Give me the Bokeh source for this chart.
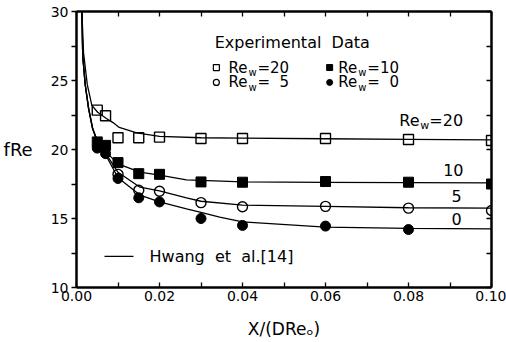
from bokeh.plotting import figure
from bokeh.models import Range1d, FixedTicker, LinearAxis, Label, CustomLabelingPolicy
from bokeh.embed import file_html
from bokeh.resources import INLINE

FONT = "DejaVu Sans"
NB = "\u00a0"

# ---------------- data ----------------
x_ticks = [0.0, 0.02, 0.04, 0.06, 0.08, 0.10]
x_minor = [0.01, 0.03, 0.05, 0.07, 0.09]
x_tick_labels = ["0.00", "0.02", "0.04", "0.06", "0.08", "0.10"]
y_ticks = [10, 15, 20, 25, 30]
y_minor = [12.5, 17.5, 22.5, 27.5]

# experimental points
x_exp = [0.005, 0.007, 0.01, 0.015, 0.02, 0.03, 0.04, 0.06, 0.08, 0.10]
fre_re20 = [22.85, 22.45, 20.85, 20.85, 20.9, 20.8, 20.8, 20.8, 20.72, 20.65]
fre_re10 = [20.55, 20.3, 19.05, 18.25, 18.2, 17.65, 17.63, 17.68, 17.63, 17.5]
x_exp_re5 = [0.01, 0.015, 0.02, 0.03, 0.04, 0.06, 0.08, 0.10]
fre_re5 = [18.2, 17.05, 16.98, 16.15, 15.85, 15.88, 15.75, 15.58]
x_exp_re0 = [0.005, 0.007, 0.01, 0.015, 0.02, 0.03, 0.04, 0.06, 0.08]
fre_re0 = [20.1, 19.7, 17.9, 16.5, 16.2, 15.0, 14.5, 14.45, 14.2]

# Hwang et al. [14] curves
cx_re20 = [0.0013, 0.0017, 0.0026, 0.0037, 0.0051, 0.0072, 0.0088, 0.0103,
           0.0145, 0.02, 0.03, 0.04, 0.06, 0.08, 0.10]
cy_re20 = [30.0, 27.0, 24.7, 23.2, 22.7, 22.25, 21.95, 21.6,
           21.2, 20.95, 20.85, 20.82, 20.78, 20.74, 20.7]
cx_low_start = [0.0013, 0.0015, 0.0021, 0.0029, 0.0039, 0.0051]
cy_low_start = [30.0, 26.8, 24.7, 23.0, 21.5, 20.55]
cx_re10 = [0.0075, 0.01, 0.0153, 0.02, 0.0265, 0.04, 0.06, 0.08, 0.10]
cy_re10 = [19.7, 18.96, 18.36, 18.15, 17.8, 17.65, 17.62, 17.6, 17.58]
cx_re5 = [0.0075, 0.01, 0.0153, 0.02, 0.0265, 0.03, 0.04, 0.06, 0.08, 0.10]
cy_re5 = [19.5, 18.35, 17.27, 17.0, 16.5, 16.25, 15.97, 15.88, 15.78, 15.75]
cx_re0 = [0.0075, 0.01, 0.0153, 0.02, 0.0265, 0.03, 0.0345, 0.04, 0.06, 0.08, 0.10]
cy_re0 = [19.35, 17.95, 16.7, 16.2, 15.7, 15.45, 15.1, 14.75, 14.37, 14.28, 14.25]

curve_labels = ["20", "10", "5", "0"]
legend_labels = ["=20", "=10", "=" + NB + NB + "5", "=" + NB + NB + "0"]

# ---------------- figure ----------------
p = figure(frame_width=415, frame_height=276, output_backend="svg",
           toolbar_location=None, x_range=Range1d(0, 0.10), y_range=Range1d(10, 30),
           min_border_left=75, min_border_top=9, min_border_right=4, min_border_bottom=4,
           background_fill_color="white", border_fill_color="white")
p.outline_line_color = None
p.xgrid.visible = False
p.ygrid.visible = False

AX_W = 2.5
TICK_W = 1.3

xa = p.xaxis[0]
xa.ticker = FixedTicker(ticks=x_ticks, minor_ticks=x_minor)
xa.major_label_overrides = {t: l for t, l in zip(x_ticks, x_tick_labels)}
xa.axis_label = "X/(DReₒ)"
ya = p.yaxis[0]
ya.ticker = FixedTicker(ticks=y_ticks, minor_ticks=y_minor)
ya.axis_label = "fRe"
ya.axis_label_orientation = "horizontal"

for ax in (xa, ya):
    ax.axis_line_width = AX_W
    ax.axis_line_color = "black"
    ax.major_tick_line_width = TICK_W
    ax.minor_tick_line_width = TICK_W
    ax.major_tick_line_color = "black"
    ax.minor_tick_line_color = "black"
    ax.major_label_text_font = FONT
    ax.major_label_text_font_size = "14px"
    ax.major_label_text_color = "black"
    ax.axis_label_text_font = FONT
    ax.axis_label_text_font_size = "17px"
    ax.axis_label_text_font_style = "normal"
    ax.axis_label_text_color = "black"

ya.axis_label_text_font_size = "18px"

xa.major_tick_in = 5
xa.major_tick_out = 0
xa.minor_tick_in = 5
xa.minor_tick_out = 0
xa.major_label_standoff = 3
xa.axis_label_standoff = 15

ya.major_tick_in = 0
ya.major_tick_out = 5
ya.minor_tick_in = 0
ya.minor_tick_out = 5
ya.major_label_standoff = 3
ya.axis_label_standoff = 15

no_labels = CustomLabelingPolicy(code="""
    const n = indices.size
    for (let i = 0; i < n; i++) indices.unset(i)
    return indices
""")

top = LinearAxis(ticker=FixedTicker(ticks=x_ticks, minor_ticks=x_minor),
                 major_label_policy=no_labels, major_label_standoff=0,
                 major_tick_in=5, major_tick_out=0, minor_tick_in=5, minor_tick_out=0,
                 axis_line_width=AX_W, major_tick_line_width=TICK_W,
                 minor_tick_line_width=TICK_W)
right = LinearAxis(ticker=FixedTicker(ticks=y_ticks, minor_ticks=y_minor),
                   major_label_policy=no_labels, major_label_standoff=0,
                   major_tick_in=5, major_tick_out=0, minor_tick_in=5, minor_tick_out=0,
                   axis_line_width=AX_W, major_tick_line_width=TICK_W,
                   minor_tick_line_width=TICK_W)
p.add_layout(top, "above")
p.add_layout(right, "right")

# ---------------- curves ----------------
LW = 1.3
p.line(cx_re20, cy_re20, line_color="black", line_width=LW)
p.line(cx_low_start + cx_re10, cy_low_start + cy_re10, line_color="black", line_width=LW)
p.line(cx_low_start + cx_re5, cy_low_start + cy_re5, line_color="black", line_width=LW)
p.line(cx_low_start + cx_re0, cy_low_start + cy_re0, line_color="black", line_width=LW)

# ---------------- markers ----------------
p.scatter(x_exp, fre_re20, marker="square", size=10, fill_color=None,
          line_color="black", line_width=1.4)
p.scatter(x_exp_re5, fre_re5, marker="circle", size=10, fill_color=None,
          line_color="black", line_width=1.4)
p.scatter(x_exp, fre_re10, marker="square", size=10, fill_color="black",
          line_color="black")
p.scatter(x_exp_re0, fre_re0, marker="circle", size=10, fill_color="black",
          line_color="black")


# ---------------- annotations ----------------
def add_text(x, y, text, size, x_offset=0, y_offset=0, align="left"):
    p.add_layout(Label(x=x, y=y, text=text, x_offset=x_offset, y_offset=y_offset,
                       text_font=FONT, text_font_size=size, text_color="black",
                       text_baseline="middle", text_align=align))


def add_rew(x, y, tail, size="15px", sub="10px", w_off=20, t_off=29):
    add_text(x, y, "Re", size)
    add_text(x, y, "w", sub, x_offset=w_off, y_offset=-5)
    add_text(x, y, tail, size, x_offset=t_off)


# legend block
add_text(0.0333, 27.72, "Experimental" + NB + NB + "Data", "16px")
leg_row_y = [25.94, 24.86]
leg_col_mx = [0.0337, 0.0610]
leg_col_tx = [0.0366, 0.0631]
p.scatter([leg_col_mx[0]], [leg_row_y[0]], marker="square", size=6,
          fill_color=None, line_color="black", line_width=1.2)
p.scatter([leg_col_mx[1]], [leg_row_y[0]], marker="square", size=6,
          fill_color="black", line_color="black")
p.scatter([leg_col_mx[0]], [leg_row_y[1]], marker="circle", size=6,
          fill_color=None, line_color="black", line_width=1.2)
p.scatter([leg_col_mx[1]], [leg_row_y[1]], marker="circle", size=6,
          fill_color="black", line_color="black")
add_rew(leg_col_tx[0], leg_row_y[0], legend_labels[0])
add_rew(leg_col_tx[1], leg_row_y[0], legend_labels[1])
add_rew(leg_col_tx[0], leg_row_y[1], legend_labels[2])
add_rew(leg_col_tx[1], leg_row_y[1], legend_labels[3])

# curve labels
add_rew(0.0778, 22.1, "=" + curve_labels[0], size="16px", sub="11px", w_off=21, t_off=30)
add_text(0.0908, 18.48, curve_labels[1], "16px", align="center")
add_text(0.0916, 16.6, curve_labels[2], "16px", align="center")
add_text(0.0916, 14.93, curve_labels[3], "16px", align="center")

# Hwang et al. legend
p.line([0.00675, 0.01373], [12.25, 12.25], line_color="black", line_width=LW)
add_text(0.0176, 12.25, "Hwang" + NB + NB + "et" + NB + NB + "al.[14]", "16px")

open("out.html", "w").write(file_html(p, INLINE))
